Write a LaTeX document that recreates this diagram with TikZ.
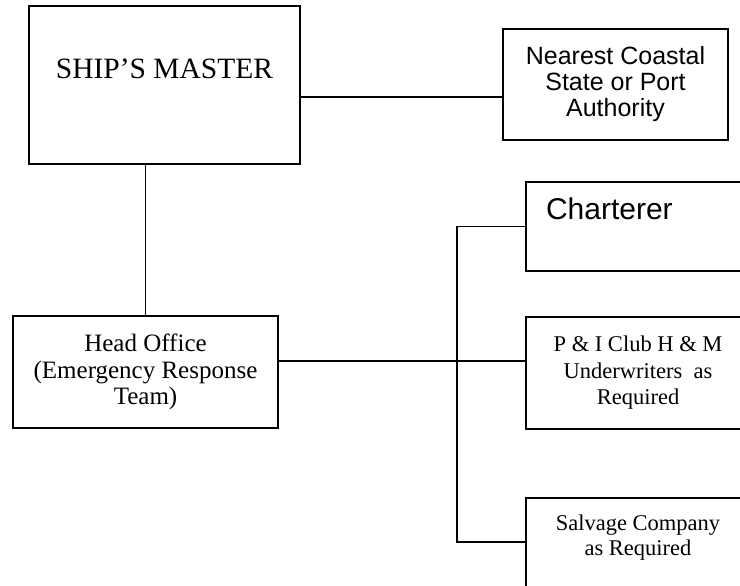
\documentclass[tikz,border=0pt]{standalone}
\usepackage{fontspec}
\setmainfont{Liberation Serif}
\setsansfont{Liberation Sans}
\usetikzlibrary{calc}

\begin{document}
\begin{tikzpicture}[
  x=1pt, y=-1pt,
  box/.style={draw, line width=1.5pt, inner sep=0pt, align=center},
  conn/.style={line width=1.2pt}
]
  \useasboundingbox (0,0) rectangle (740,586);
  \clip (0,0) rectangle (740,586);

  \node[box, minimum width=271pt, text height=73pt, text depth=85pt, font=\fontsize{29.5}{32}\selectfont] (master) at (164.5,85) {SHIP'S MASTER};
  \node[box, minimum width=225pt, minimum height=111pt, font=\sffamily\fontsize{25}{26}\selectfont] (coastal) at (615.5,84.5) {Nearest Coastal\\State or Port\\Authority};
  \node[box, minimum width=265pt, minimum height=112pt, font=\fontsize{25}{26.5}\selectfont] (head) at (145.5,372) {Head Office\\(Emergency Response\\Team)};

  \node[box, text width=184pt, inner xsep=20pt, align=left, text height=37pt, text depth=52pt, font=\sffamily\fontsize{30}{32}\selectfont] (charterer) at (638,226.5) {Charterer};
  \node[box, minimum width=224pt, minimum height=112pt, font=\fontsize{22.5}{26.5}\selectfont] (club) at (638,373) {P \& I Club H \& M\\Underwriters~ as\\Required};
  \node[box, minimum width=224pt, anchor=north, text height=58pt, text depth=55pt, font=\fontsize{22.5}{25}\selectfont] (salvage) at (638,497) {Salvage Company\\as Required};

  \coordinate (jn) at (457,542);

  \draw[conn] ([yshift=-12pt]master.east) -- ([yshift=-12pt]master.east -| coastal.west);
  \draw[conn] (head.north) -- (head.north |- master.south);
  \draw[conn] ([yshift=11pt]head.east) -- ([yshift=11pt]head.east -| club.west);
  \draw[conn] (charterer.west) -| (jn) -- ([yshift=-45pt]salvage.north west);
\end{tikzpicture}
\end{document}
